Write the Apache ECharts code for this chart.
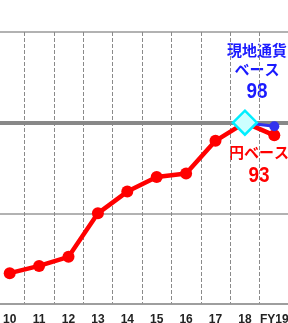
<!DOCTYPE html>
<html>
<head>
<meta charset="utf-8">
<script src="https://cdn.jsdelivr.net/npm/echarts@6/dist/echarts.min.js"></script>
<style>
  html, body { margin: 0; padding: 0; background: #fff; }
  #chart { width: 288px; height: 323px; }
</style>
</head>
<body>
<div id="chart"></div>
<script>
// 年度
var years = ['10', '11', '12', '13', '14', '15', '16', '17', '18', 'FY19'];
// 円ベース (FY18 = 100)
var yenBase = [17, 21, 26, 50, 62, 70, 72, 90, 100, 93];
// 現地通貨ベース
var localBase = [null, null, null, null, null, null, null, null, 100, 98];
// 基準点
var basePoint = [null, null, null, null, null, null, null, null, 100, null];

var numFont = '"Liberation Sans", Arial, sans-serif';
var jpFont = '"Noto Sans CJK JP", sans-serif';

var option = {
    animation: false,
    grid: { left: -5, right: -1, top: 32, bottom: 19, containLabel: false, outerBoundsMode: 'none' },
    xAxis: {
        type: 'category',
        data: years,
        axisLine: { lineStyle: { color: '#999', width: 1.5 } },
        axisTick: { show: false },
        axisLabel: {
            interval: 0,
            color: '#222', fontWeight: 'bold', fontSize: 12,
            fontFamily: numFont, margin: 10
        },
        splitLine: { show: true, interval: 0, lineStyle: { color: '#8a8a8a', type: [4, 2], width: 1 } }
    },
    yAxis: {
        type: 'value',
        min: 0, max: 150, interval: 50,
        axisLabel: { show: false },
        axisLine: { show: false },
        axisTick: { show: false },
        splitLine: { lineStyle: { color: '#999', width: 1.5 } }
    },
    series: [{
        name: '円ベース',
        type: 'line',
        data: yenBase,
        symbol: 'circle',
        symbolSize: 12,
        itemStyle: { color: '#ff0000' },
        lineStyle: { color: '#ff0000', width: 4.5 },
        z: 3,
        markLine: {
            silent: true,
            symbol: 'none',
            label: { show: false },
            lineStyle: { color: '#888', width: 4, type: 'solid' },
            data: [{ yAxis: 100 }],
            z: 1
        }
    }, {
        name: '現地通貨ベース',
        type: 'line',
        data: localBase,
        symbol: 'circle',
        symbolSize: 10,
        itemStyle: { color: '#3333ee' },
        lineStyle: { color: '#3333ee', width: 3 },
        z: 4
    }, {
        name: '基準',
        type: 'line',
        data: basePoint,
        symbol: 'diamond',
        symbolSize: [24, 24],
        itemStyle: { color: '#ccffff', borderColor: '#00eeff', borderWidth: 2.5 },
        z: 5
    }],
    graphic: [
        { type: 'text', x: 257, y: 43, style: { text: '現地通貨', fill: '#1a1aff', font: 'bold 15px ' + jpFont, textAlign: 'center' } },
        { type: 'text', x: 257, y: 62, style: { text: 'ベース', fill: '#1a1aff', font: 'bold 15px ' + jpFont, textAlign: 'center' } },
        { type: 'text', x: 257, y: 81, scaleX: 0.86, style: { text: '98', fill: '#1a1aff', font: 'bold 22px ' + numFont, textAlign: 'center' } },
        { type: 'text', x: 229, y: 145, style: { text: '円ベース', fill: '#ff0000', font: 'bold 15px ' + jpFont } },
        { type: 'text', x: 259, y: 165, scaleX: 0.86, style: { text: '93', fill: '#ff0000', font: 'bold 22px ' + numFont, textAlign: 'center' } }
    ]
};

var myChart = echarts.init(document.getElementById('chart'));
myChart.setOption(option);
</script>
</body>
</html>
